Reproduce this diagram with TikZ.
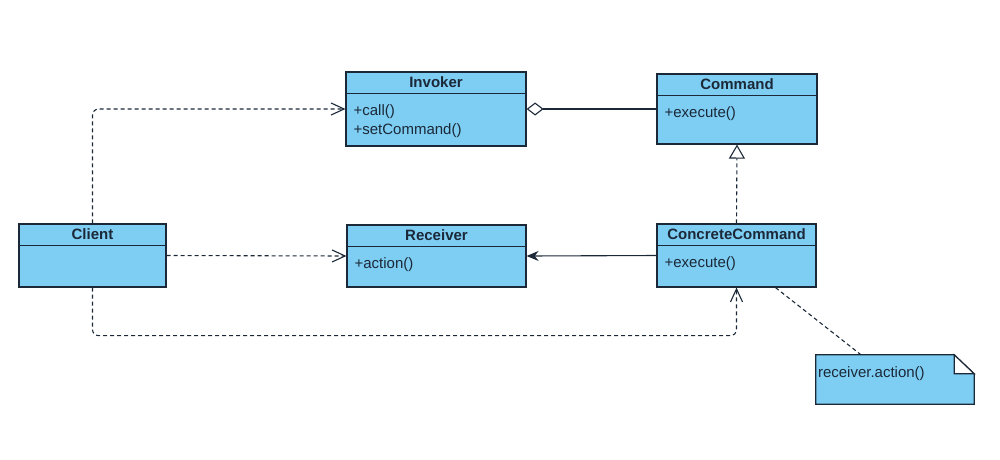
\documentclass[tikz,border=0pt]{standalone}
\usepackage{fontspec}
\setmainfont{Liberation Sans}
\usepackage{xcolor}
\definecolor{classFill}{HTML}{7ECEF4}
\definecolor{classLine}{HTML}{1B2838}
\usetikzlibrary{%
    arrows.meta,
    positioning,
    calc
}

\begin{document}
\begin{tikzpicture}[x=1pt, y=-1pt,
                font=\fontsize{15}{18.5}\selectfont, text=classLine,
                umlbox/.style={rectangle, draw=classLine, fill=classFill, line width=1.2pt, inner sep=0pt},
                head/.style={rectangle, minimum height=22pt, inner sep=0pt, font=\fontsize{15}{18.5}\selectfont\bfseries},
                body/.style={rectangle, inner xsep=8pt, inner ysep=11pt, align=left, anchor=north west},
                divider/.style={draw=classLine, line width=1.2pt},
                dep/.style={draw=classLine, line width=1.1pt, dash pattern=on 4pt off 3pt, rounded corners=6pt, -{Straight Barb[length=13pt, width=12pt]}},
                real/.style={draw=classLine, line width=1.1pt, dash pattern=on 4pt off 3pt, -{Triangle[open, length=14pt, width=16pt]}},
                aggr/.style={draw=classLine, line width=1.1pt, {Diamond[open, length=17pt, width=13pt]}-},
                assoc/.style={draw=classLine, line width=1.1pt, -{Stealth[length=12pt, width=10pt]}},
                notelink/.style={draw=classLine, line width=1.1pt, dash pattern=on 4pt off 3pt}
            ]
            \useasboundingbox (0,0) rectangle (1000,459);

            % classes
            \node (invoker) [umlbox, minimum width=180pt, minimum height=74pt] at (436,109) {};
            \node (invokerHead) [head, below=0pt of invoker.north] {Invoker};
            \draw[divider] (invoker.west |- invokerHead.south) -- (invoker.east |- invokerHead.south);
            \node (invokerBody) [body] at (invoker.west |- invokerHead.south) {+call()\\+setCommand()};

            \node (command) [umlbox, minimum width=160pt, minimum height=70pt] at (737,109) {};
            \node (commandHead) [head, below=0pt of command.north] {Command};
            \draw[divider] (command.west |- commandHead.south) -- (command.east |- commandHead.south);
            \node (commandBody) [body] at (command.west |- commandHead.south) {+execute()};

            \node (client) [umlbox, minimum width=147pt, minimum height=63pt] at (92.5,255.5) {};
            \node (clientHead) [head, below=0pt of client.north] {Client};
            \draw[divider] (client.west |- clientHead.south) -- (client.east |- clientHead.south);

            \node (receiver) [umlbox, minimum width=179pt, minimum height=62pt] at (436.5,256) {};
            \node (receiverHead) [head, below=0pt of receiver.north] {Receiver};
            \draw[divider] (receiver.west |- receiverHead.south) -- (receiver.east |- receiverHead.south);
            \node (receiverBody) [body] at (receiver.west |- receiverHead.south) {+action()};

            \node (concrete) [umlbox, minimum width=159pt, minimum height=63pt] at (736.5,255.5) {};
            \node (concreteHead) [head, below=0pt of concrete.north] {ConcreteCommand};
            \draw[divider] (concrete.west |- concreteHead.south) -- (concrete.east |- concreteHead.south);
            \node (concreteBody) [body] at (concrete.west |- concreteHead.south) {+execute()};

            % note
            \node (note) [rectangle, minimum width=158pt, minimum height=49pt, inner sep=0pt] at (895,379.5) {};
            \draw[umlbox] (note.north west) -- ([xshift=-20pt]note.north east) -- ([yshift=-19pt]note.north east) -- (note.south east) -- (note.south west) -- cycle;
            \draw[divider, fill=white] ([xshift=-20pt]note.north east) -- ([xshift=-20pt, yshift=-19pt]note.north east) -- ([yshift=-19pt]note.north east) -- cycle;
            \node (noteText) [anchor=west, inner sep=2pt] at ([yshift=-19pt]note.north west) {receiver.action()};

            % relations
            \draw[dep] (client.north) |- (invoker.west);
            \draw[dep] (client.east) -- (receiver.west);
            \draw[dep] (client.south) -- ++(0,48) -| (concrete.south);
            \draw[aggr] (invoker.east) -- (command.west);
            \draw[real] (concrete.north) -- (command.south);
            \draw[assoc] (concrete.west) -- (receiver.east);
            \draw[notelink] ([xshift=39pt]concrete.south) -- ([xshift=-34pt]note.north);
\end{tikzpicture}
\end{document}
